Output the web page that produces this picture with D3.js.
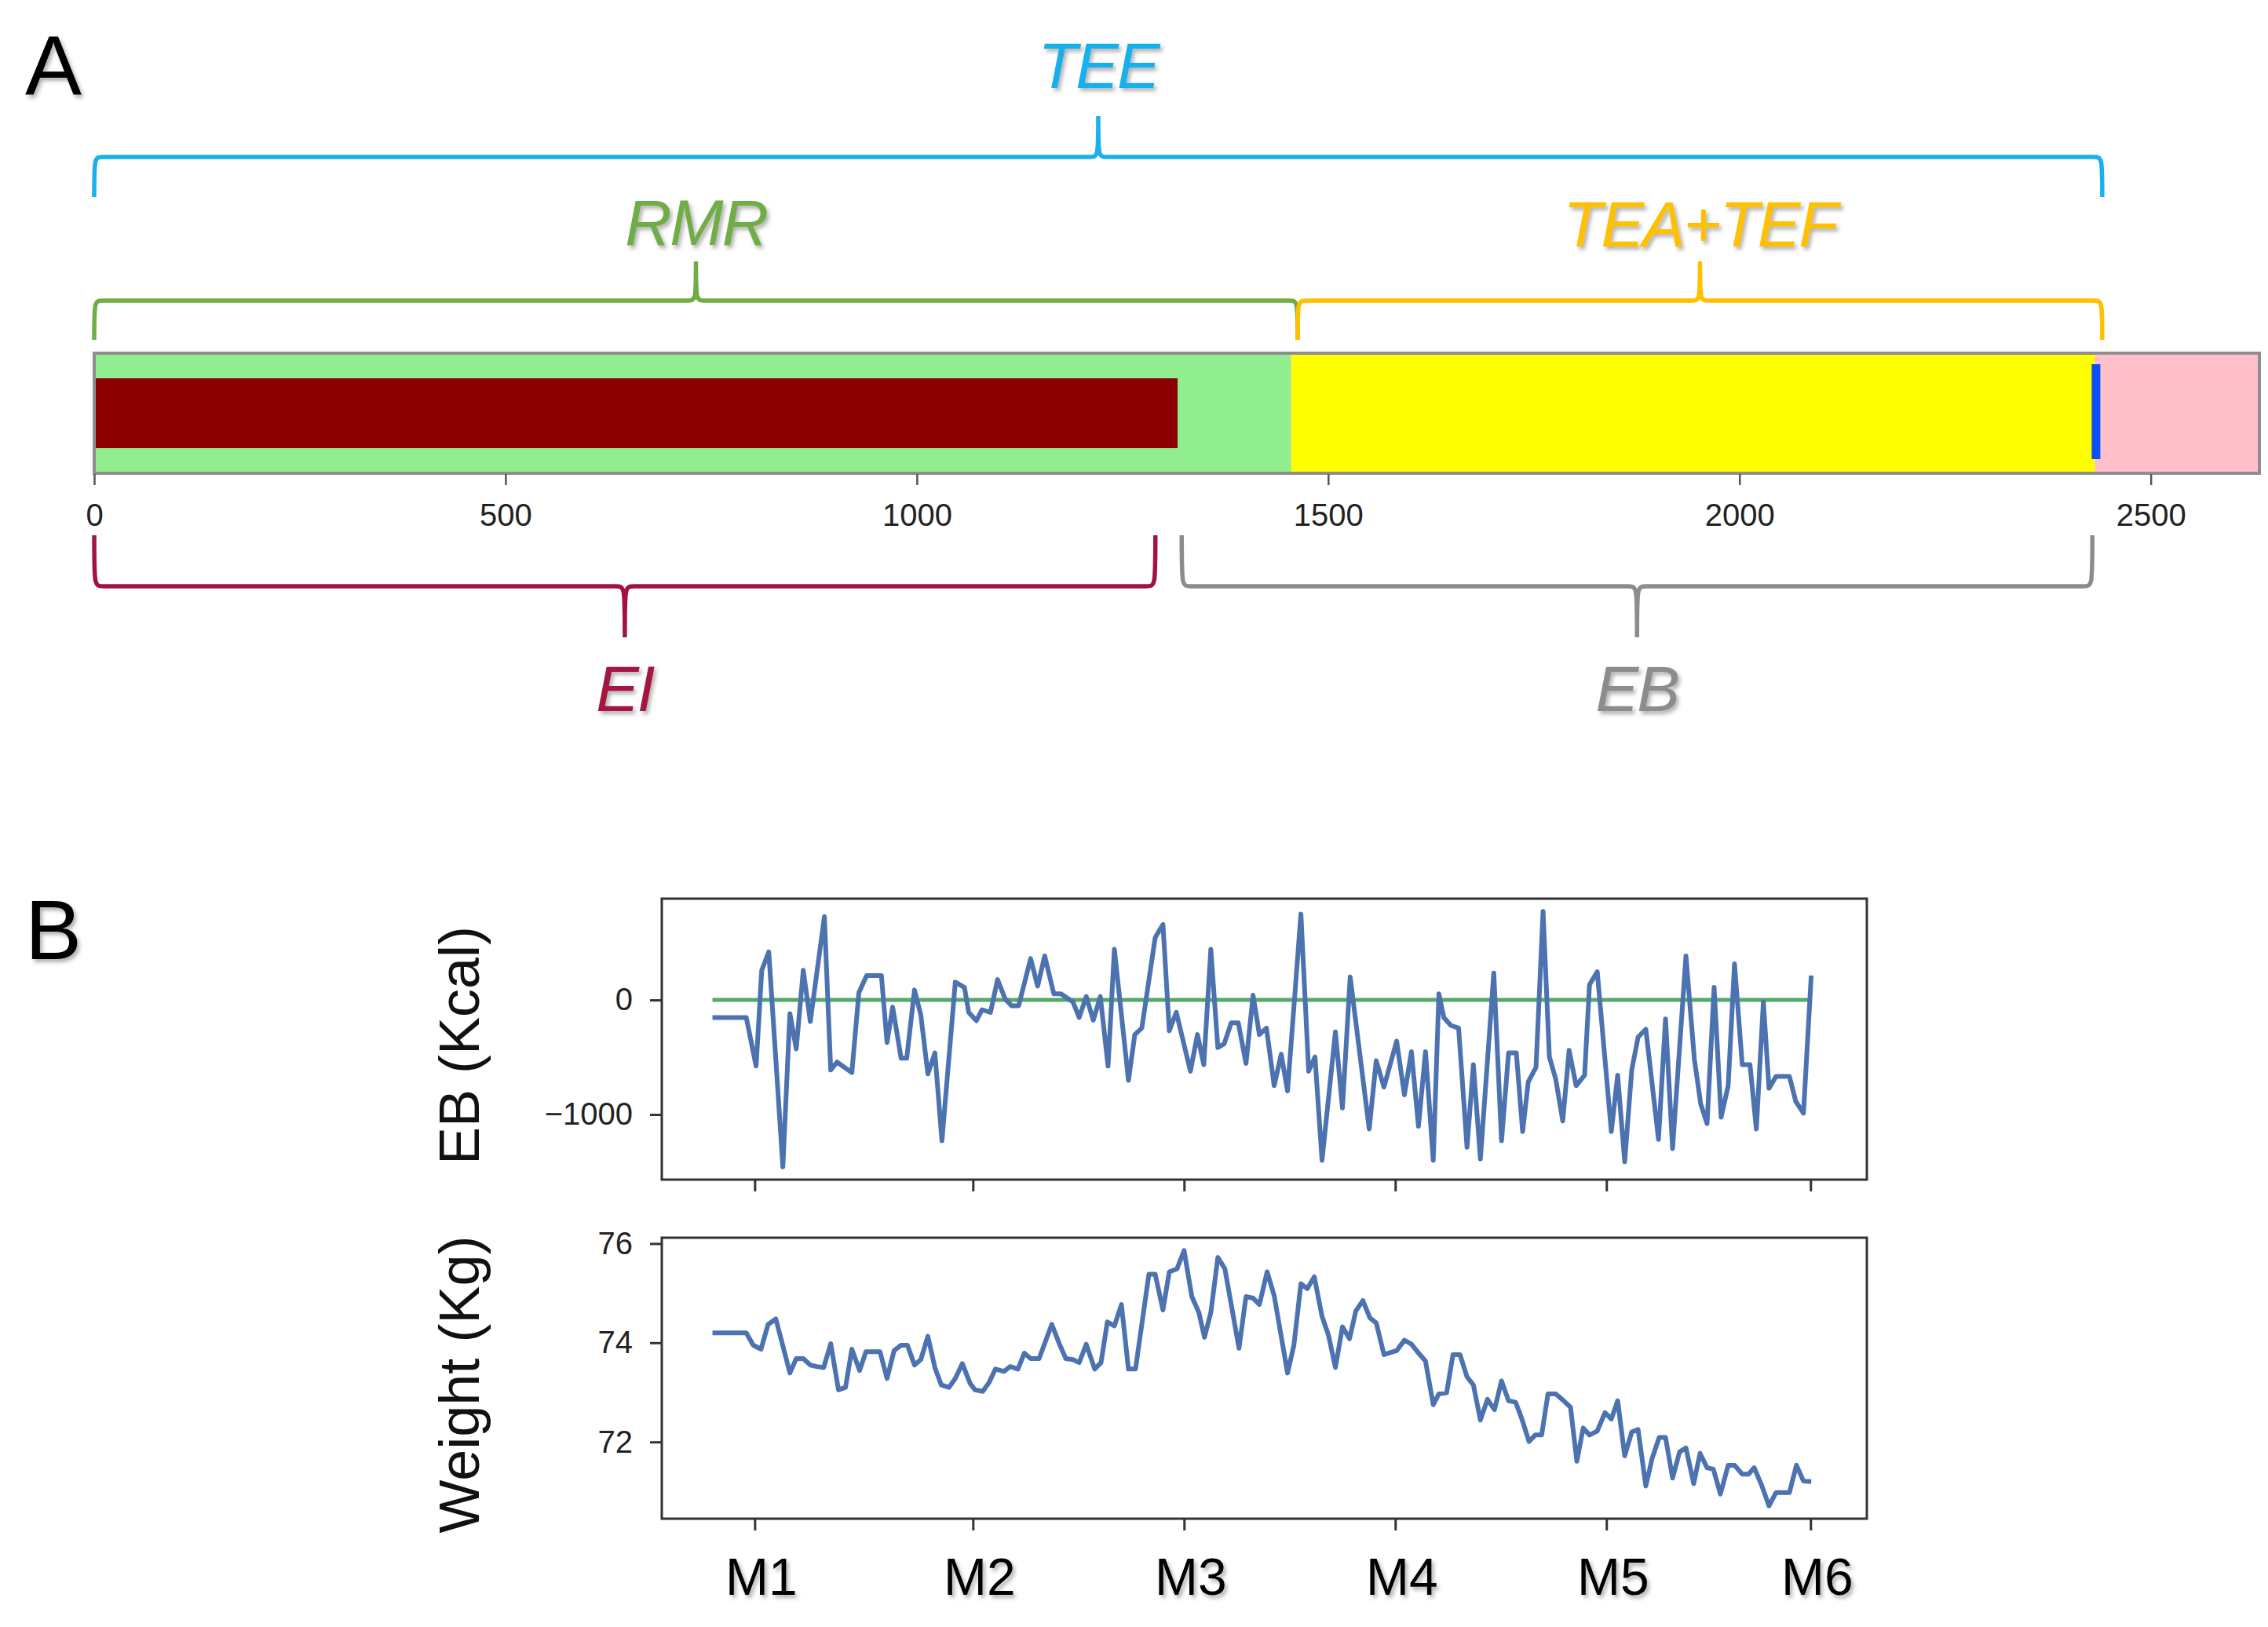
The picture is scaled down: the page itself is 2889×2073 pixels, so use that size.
<!DOCTYPE html>
<html>
<head>
<meta charset="utf-8">
<script src="https://cdn.jsdelivr.net/npm/d3@7"></script>
<style>
  body { margin: 0; background: #fff; }
  svg { display: block; }
  text { font-family: "Liberation Sans", Arial, sans-serif; }
</style>
</head>
<body>
<div class="chart"></div>
<script>
// ---- panel A: energy bar (kcal) ----
var aTickValues = [0, 500, 1000, 1500, 2000, 2500];
var aAxisMax = 2632;
var rmrKcal = 1455;
var teeKcal = 2432;
var eiKcal = 1317;

// brace spans in kcal
var braceNames = ["TEE", "RMR", "TEA+TEF", "EI", "EB"];
var braceFrom  = [0, 0, 1463, 0, 1322];
var braceTo    = [2441, 1463, 2441, 1290, 2429];

// ---- panel B: daily series ----
var monthLabels = ["M1", "M2", "M3", "M4", "M5", "M6"];
var monthDays = [6, 37, 67, 97, 127, 156];
var ebTicks = [0, -1000];
var weightTicks = [72, 74, 76];

var ebDays = [0, 4.8, 6.2, 7.0, 8.0, 10.0, 11.0, 11.9, 12.9, 13.9, 15.9, 16.8, 17.7, 19.8, 20.8, 21.9, 24.0, 24.8,
  25.6, 26.8, 27.6, 28.7, 29.6, 30.6, 31.6, 32.6, 34.5, 35.8, 36.4, 37.5, 38.3, 39.5, 40.5, 41.6, 42.5, 43.5,
  45.2, 46.2, 47.2, 48.5, 49.5, 51.2, 52.1, 53.1, 54.1, 55.1, 56.2, 57.1, 59.1, 60.0, 61.0, 62.9, 64.0, 64.9,
  65.9, 67.9, 68.9, 69.8, 70.8, 71.8, 72.7, 73.7, 74.7, 75.8, 76.8, 77.7, 78.7, 79.8, 80.8, 81.7, 83.6, 84.7,
  85.6, 86.6, 88.5, 89.5, 90.6, 93.3, 94.3, 95.4, 97.2, 98.3, 99.3, 100.3, 101.3, 102.4, 103.2, 103.9, 104.9,
  106.0, 107.2, 108.1, 109.1, 111.0, 112.1, 113.1, 114.2, 115.1, 115.9, 117.0, 118.0, 118.9, 119.8, 120.8,
  121.7, 122.7, 123.9, 124.6, 125.7, 127.7, 128.6, 129.6, 130.6, 131.5, 132.6, 134.4, 135.4, 136.4, 138.3,
  139.5, 140.4, 141.3, 142.3, 143.3, 144.3, 145.2, 146.3, 147.4, 148.3, 149.3, 150.1, 151.1, 153.0, 153.9,
  155.0, 156.1];
var ebKcal = [-153, -153, -577, 259, 419, -1457, -119, -428, 259, -188, 728, -611, -542, -634, 64, 213, 213, -371,
  -62, -508, -508, 87, -130, -645, -462, -1229, 156, 110, -108, -181, -85, -108, 178, 7, -50, -50,
  361, 121, 384, 53, 53, -16, -153, 30, -176, 30, -577, 442, -702, -302, -245, 545, 659, -268,
  -108, -622, -302, -565, 442, -416, -382, -199, -199, -554, 41, -302, -245, -748, -474, -794, 750, -622,
  -497, -1400, -279, -943, 201, -1126, -531, -760, -359, -828, -451, -1103, -451, -1400, 53, -153, -222,
  -245, -1286, -565, -1389, 236, -1229, -462, -462, -1149, -714, -588, 773, -497, -691, -1057,
  -439, -748, -657, 133, 247, -1149, -657, -1412, -611, -325, -256, -1217, -165, -1297, 384,
  -519, -908, -1080, 110, -1023, -748, 316, -565, -565, -1126, -16, -771, -668, -668, -885,
  -988, 213];

var weightDays = [0, 4.8, 5.8, 6.9, 7.9, 9.0, 11.0, 11.9, 12.9, 13.9, 14.8, 15.8, 16.8, 17.9, 18.9, 19.8, 20.9,
  21.8, 23.8, 24.8, 25.8, 26.8, 27.7, 28.7, 29.6, 30.6, 31.6, 32.5, 33.6, 34.5, 35.5, 36.6, 37.3, 38.4, 39.3,
  40.2, 41.4, 42.3, 43.4, 44.3, 45.2, 46.4, 48.2, 49.3, 50.2, 51.2, 52.1, 53.1, 54.3, 55.2, 56.1, 57.1, 58.1,
  59.1, 60.1, 62.0, 62.9, 64.0, 64.9, 66.0, 67.0, 68.1, 69.1, 69.9, 70.8, 71.8, 72.8, 74.8, 75.8, 76.8, 77.7,
  78.8, 79.8, 81.7, 82.6, 83.6, 84.5, 85.5, 86.6, 87.5, 88.5, 89.5, 90.5, 91.4, 92.4, 93.4, 94.3, 95.4, 97.2,
  98.3, 99.3, 100.2, 101.3, 102.4, 103.2, 104.3, 105.2, 106.2, 107.2, 108.1, 109.1, 110.1, 111.1, 112.1,
  113.1, 114.1, 115.0, 116.0, 116.9, 117.8, 118.7, 119.8, 120.7, 121.9, 122.8, 123.7, 124.6, 125.7, 126.8,
  127.7, 128.6, 129.6, 130.6, 131.5, 132.6, 133.5, 134.5, 135.4, 136.4, 137.4, 138.3, 139.4, 140.3, 141.3,
  142.2, 143.2, 144.3, 145.2, 146.3, 147.2, 148.0, 149.1, 150.1, 151.1, 153.0, 154.0, 155.0, 156.1];
var weightKg = [74.20, 74.20, 73.95, 73.87, 74.37, 74.48, 73.39, 73.68, 73.68, 73.55, 73.52, 73.50, 73.98, 73.05,
  73.10, 73.87, 73.44, 73.82, 73.82, 73.28, 73.84, 73.95, 73.95, 73.55, 73.66, 74.13, 73.50, 73.15, 73.10,
  73.28, 73.58, 73.18, 73.05, 73.02, 73.20, 73.47, 73.42, 73.52, 73.47, 73.79, 73.68, 73.68, 74.37, 73.97,
  73.68, 73.66, 73.60, 73.97, 73.47, 73.60, 74.42, 74.34, 74.77, 73.47, 73.47, 75.38, 75.38, 74.66, 75.43,
  75.49, 75.86, 74.93, 74.61, 74.11, 74.61, 75.72, 75.49, 73.89, 74.93, 74.90, 74.77, 75.43, 74.95, 73.39,
  73.95, 75.19, 75.09, 75.33, 74.53, 74.16, 73.50, 74.32, 74.08, 74.64, 74.85, 74.50, 74.40, 73.76, 73.84,
  74.05, 73.97, 73.81, 73.63, 72.75, 72.97, 72.99, 73.76, 73.76, 73.31, 73.15, 72.44, 72.86, 72.65, 73.23,
  72.83, 72.80, 72.46, 72.01, 72.14, 72.14, 72.97, 72.97, 72.86, 72.70, 71.61, 72.28, 72.14, 72.22, 72.59,
  72.46, 72.83, 71.72, 72.20, 72.25, 71.11, 71.67, 72.09, 72.09, 71.27, 71.80, 71.88, 71.16, 71.77, 71.48,
  71.45, 70.95, 71.53, 71.53, 71.35, 71.35, 71.48, 71.11, 70.71, 70.98, 70.98, 71.53, 71.21, 71.20];

var W = 2889, H = 2073;

var svg = d3.select("div.chart")
            .append("svg")
            .attr("width", W)
            .attr("height", H)
            .attr("viewBox", `0 0 ${W} ${H}`);

// soft drop shadow used by the annotation text
svg.append("defs")
   .append("filter")
     .attr("id", "shadow")
     .attr("x", "-20%").attr("y", "-20%")
     .attr("width", "140%").attr("height", "140%")
   .append("feDropShadow")
     .attr("dx", 3).attr("dy", 4)
     .attr("stdDeviation", 2.5)
     .attr("flood-color", "#555")
     .attr("flood-opacity", 0.45);

var plainInt = d3.format("d");

//curly brace from x0 to x1, ends at yEnd, spine at yMid, point at yTip
function bracePath(x0, x1, yEnd, yMid, yTip){
    var r = 12;
    var xm = (x0 + x1) / 2;
    return `M${x0},${yEnd} C${x0},${yMid} ${x0},${yMid} ${x0 + r},${yMid}` +
           ` L${xm - r},${yMid} C${xm},${yMid} ${xm},${yMid} ${xm},${yTip}` +
           ` C${xm},${yMid} ${xm},${yMid} ${xm + r},${yMid}` +
           ` L${x1 - r},${yMid} C${x1},${yMid} ${x1},${yMid} ${x1},${yEnd}`;
}

function drawPanelA(){
    var xA = d3.scaleLinear().domain([0, aAxisMax]).range([120, 2878]);
    var barTop = 450, barBottom = 603;
    var g = svg.append("g").attr("class", "panelA");

    g.append("text")
        .attr("x", 32).attr("y", 121)
        .attr("font-size", 108)
        .attr("filter", "url(#shadow)")
        .text("A");

    //background range, then RMR and TEA+TEF segments
    g.append("rect")
        .attr("x", xA(0)).attr("y", barTop)
        .attr("width", xA(aAxisMax) - xA(0)).attr("height", barBottom - barTop)
        .attr("fill", "pink");
    g.append("rect")
        .attr("x", xA(0)).attr("y", barTop)
        .attr("width", xA(rmrKcal) - xA(0)).attr("height", barBottom - barTop)
        .attr("fill", "lightgreen");
    g.append("rect")
        .attr("x", xA(rmrKcal)).attr("y", barTop)
        .attr("width", xA(teeKcal) - xA(rmrKcal)).attr("height", barBottom - barTop)
        .attr("fill", "yellow");

    //energy intake bar and TEE marker
    g.append("rect")
        .attr("x", xA(0)).attr("y", 482)
        .attr("width", xA(eiKcal) - xA(0)).attr("height", 89)
        .attr("fill", "darkred");
    g.append("rect")
        .attr("x", xA(teeKcal) - 4).attr("y", 464)
        .attr("width", 11).attr("height", 121)
        .attr("fill", "#0a50f5");

    g.append("rect")
        .attr("x", xA(0)).attr("y", barTop)
        .attr("width", xA(aAxisMax) - xA(0)).attr("height", barBottom - barTop)
        .attr("fill", "none")
        .attr("stroke", "#8e8e8e")
        .attr("stroke-width", 4);

    var axis = g.append("g")
        .attr("transform", `translate(0,${barBottom + 1})`)
        .call(d3.axisBottom(xA).tickValues(aTickValues).tickSize(14).tickPadding(24).tickFormat(plainInt));
    axis.select(".domain").remove();
    axis.selectAll(".tick line").attr("stroke", "#555").attr("stroke-width", 2.5);
    axis.selectAll(".tick text")
        .attr("font-family", "DejaVu Sans")
        .attr("font-size", 40)
        .attr("fill", "#222");

    //brace rows: [end y, spine y, tip y, label baseline]
    var braceRows = [[251, 200, 148, 112], [433, 383, 333, 312], [433, 383, 333, 314],
                     [682, 747, 812, 906], [682, 747, 812, 906]];
    var braceColors = ["#19b0ec", "#70ad47", "#ffc000", "#a3123f", "#8c8c8c"];

    var braces = g.selectAll(".brace")
        .data(braceNames)
        .enter()
        .append("g")
        .attr("class", "brace");

    braces.append("path")
        .attr("d", (d, i) => bracePath(xA(braceFrom[i]), xA(braceTo[i]), braceRows[i][0], braceRows[i][1], braceRows[i][2]))
        .attr("fill", "none")
        .attr("stroke", (d, i) => braceColors[i])
        .attr("stroke-width", 5.5);

    braces.append("text")
        .attr("x", (d, i) => (xA(braceFrom[i]) + xA(braceTo[i])) / 2)
        .attr("y", (d, i) => braceRows[i][3])
        .attr("text-anchor", "middle")
        .attr("font-size", 82)
        .attr("font-style", "italic")
        .attr("letter-spacing", -2)
        .attr("fill", (d, i) => braceColors[i])
        .attr("filter", "url(#shadow)")
        .text(d => d);
}

function drawPanelB(){
    var left = 843, right = 2378;
    var xB = d3.scaleLinear().domain([-7.2, 164]).range([left, right]);

    var g = svg.append("g").attr("class", "panelB");

    g.append("text")
        .attr("x", 32).attr("y", 1222)
        .attr("font-size", 108)
        .attr("filter", "url(#shadow)")
        .text("B");

    //matplotlib style 5% margins on y
    function paddedDomain(values){
        var ext = d3.extent(values);
        var pad = (ext[1] - ext[0]) * 0.05;
        return [ext[0] - pad, ext[1] + pad];
    }

    function drawSubplot(top, bottom, days, values, yTicks, yLabel, showMonths){
        var y = d3.scaleLinear().domain(paddedDomain(values)).range([bottom, top]);
        var sub = g.append("g");

        if (yLabel === "EB (Kcal)") {
            //zero balance reference line
            sub.append("path")
                .attr("d", d3.line()([[xB(days[0]), y(0)], [xB(days[days.length - 1]), y(0)]]))
                .attr("stroke", "#55a868")
                .attr("stroke-width", 5)
                .attr("fill", "none");
        }

        var line = d3.line()
                     .x((d, i) => xB(days[i]))
                     .y(d => y(d));
        sub.append("path")
            .datum(values)
            .attr("d", line)
            .attr("fill", "none")
            .attr("stroke", "#4c72b0")
            .attr("stroke-width", 6)
            .attr("stroke-linejoin", "round");

        sub.append("rect")
            .attr("x", left).attr("y", top)
            .attr("width", right - left).attr("height", bottom - top)
            .attr("fill", "none")
            .attr("stroke", "#333")
            .attr("stroke-width", 3);

        var yAxis = sub.append("g")
            .attr("transform", `translate(${left},0)`)
            .call(d3.axisLeft(y).tickValues(yTicks).tickSize(15).tickPadding(22).tickFormat(plainInt));
        yAxis.select(".domain").remove();
        yAxis.selectAll(".tick line").attr("stroke", "#333").attr("stroke-width", 3);
        yAxis.selectAll(".tick text")
            .attr("font-family", "DejaVu Sans")
            .attr("font-size", 40)
            .attr("fill", "#222");

        var xAxis = sub.append("g")
            .attr("transform", `translate(0,${bottom})`)
            .call(d3.axisBottom(xB).tickValues(monthDays).tickSize(15).tickPadding(35)
                    .tickFormat((d, i) => showMonths ? monthLabels[i] : ""));
        xAxis.select(".domain").remove();
        xAxis.selectAll(".tick line").attr("stroke", "#333").attr("stroke-width", 3);
        xAxis.selectAll(".tick text")
            .attr("font-family", "Liberation Sans")
            .attr("font-size", 66)
            .attr("dx", 8)
            .attr("fill", "#000")
            .attr("filter", "url(#shadow)");

        sub.append("text")
            .attr("transform", `translate(585,${(top + bottom) / 2 + 8}) rotate(-90)`)
            .attr("text-anchor", "middle")
            .attr("dy", "0.35em")
            .attr("font-size", 72)
            .attr("fill", "#111")
            .text(yLabel);
    }

    drawSubplot(1145, 1503, ebDays, ebKcal, ebTicks, "EB (Kcal)", false);
    drawSubplot(1577, 1935, weightDays, weightKg, weightTicks, "Weight (Kg)", true);
}

drawPanelA();
drawPanelB();
</script>
</body>
</html>
